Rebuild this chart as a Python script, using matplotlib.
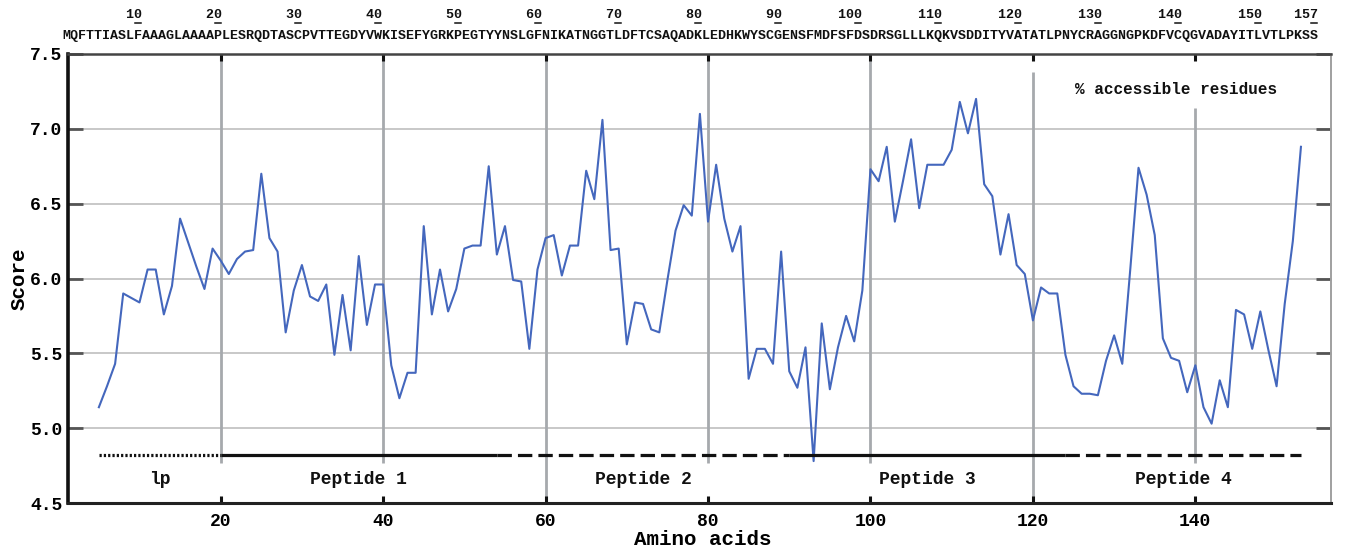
import numpy as np
import matplotlib
matplotlib.use("Agg")
import matplotlib.pyplot as plt
from matplotlib.lines import Line2D

plt.rcParams['font.family'] = ['Liberation Mono', 'DejaVu Sans Mono']
plt.rcParams['font.weight'] = 'bold'

# ---- protein sequence and residue numbering ----
sequence = ("MQFTTIASLFAAAGLAAAAPLESRQDTASCPVTTEGDYVWKISEFYGRKPEGTYYNSLGF"
            "NIKATNGGTLDFTCSAQADKLEDHKWYSCGENSFMDFSFDSDRSGLLLKQKVSDDITYVA"
            "TATLPNYCRAGGNGPKDFVCQGVADAYITLVTLPKSS")
seq_marks = [10, 20, 30, 40, 50, 60, 70, 80, 90, 100, 110, 120, 130, 140, 150, 157]

# ---- accessibility profile (window-centred residue, score) ----
residue = np.arange(5, 154)
score = [
    5.14, 5.28, 5.43, 5.90, 5.87, 5.84, 6.06, 6.06, 5.76, 5.95,   # 5-14
    6.40, 6.24, 6.08, 5.93, 6.20, 6.12, 6.03, 6.13, 6.18, 6.19,   # 15-24
    6.70, 6.27, 6.18, 5.64, 5.92, 6.09, 5.88, 5.85, 5.96, 5.49,   # 25-34
    5.89, 5.52, 6.15, 5.69, 5.96, 5.96, 5.42, 5.20, 5.37, 5.37,   # 35-44
    6.35, 5.76, 6.06, 5.78, 5.93, 6.20, 6.22, 6.22, 6.75, 6.16,   # 45-54
    6.35, 5.99, 5.98, 5.53, 6.06, 6.27, 6.29, 6.02, 6.22, 6.22,   # 55-64
    6.72, 6.53, 7.06, 6.19, 6.20, 5.56, 5.84, 5.83, 5.66, 5.64,   # 65-74
    5.99, 6.32, 6.49, 6.42, 7.10, 6.38, 6.76, 6.40, 6.18, 6.35,   # 75-84
    5.33, 5.53, 5.53, 5.43, 6.18, 5.38, 5.27, 5.54, 4.78, 5.70,   # 85-94
    5.26, 5.54, 5.75, 5.58, 5.92, 6.73, 6.65, 6.88, 6.38, 6.65,   # 95-104
    6.93, 6.47, 6.76, 6.76, 6.76, 6.86, 7.18, 6.97, 7.20, 6.63,   # 105-114
    6.55, 6.16, 6.43, 6.09, 6.03, 5.72, 5.94, 5.90, 5.90, 5.49,   # 115-124
    5.28, 5.23, 5.23, 5.22, 5.45, 5.62, 5.43, 6.07, 6.74, 6.56,   # 125-134
    6.29, 5.60, 5.47, 5.45, 5.24, 5.42, 5.14, 5.03, 5.32, 5.14,   # 135-144
    5.79, 5.76, 5.53, 5.78, 5.52, 5.28, 5.83, 6.25, 6.88,         # 145-153
]

# ---- peptide segments ----
seg_names = ['lp', 'Peptide 1', 'Peptide 2', 'Peptide 3', 'Peptide 4']
seg_start = [5, 20, 54, 90, 124]
seg_end = [20, 54, 90, 124, 153]
seg_styles = [(0, (0.7, 0.65)), '-', (0, (4.5, 1.9)), '-', (0, (4.5, 1.9))]

x_ticks = [20, 40, 60, 80, 100, 120, 140]
y_ticks = [4.5, 5.0, 5.5, 6.0, 6.5, 7.0, 7.5]

W, H = 1345, 551
fig = plt.figure(figsize=(W / 100, H / 100), dpi=100)
ax = fig.add_axes([68 / W, 48 / H, 1263 / W, 449 / H])
ax.set_xlim(1.2, 156.7)
ax.set_ylim(4.5, 7.5)

# horizontal grid
for yv in y_ticks[1:-1]:
    ax.axhline(yv, color='#c8c8c8', lw=1.4, zorder=1)

# vertical guide lines (partial heights)
v_lo = [4.77, 4.77, 4.5, 4.77, 4.77, 4.5, 4.77]
v_hi = [7.5, 7.5, 7.5, 7.5, 7.5, 7.38, 7.14]
ax.vlines(x_ticks, v_lo, v_hi, colors='#a6a9ad', lw=2.0, zorder=1)

# profile
ax.plot(residue, score, color='#4467bd', lw=1.5, zorder=3)

# segment bars and names
bar_y = 4.82
for name, s, e, ls in zip(seg_names, seg_start, seg_end, seg_styles):
    ax.plot([s, e], [bar_y, bar_y], color='#111111', lw=2.3, linestyle=ls,
            solid_capstyle='butt', dash_capstyle='butt', zorder=4)
    ax.text((s + e) / 2, 4.655, name, ha='center', va='center',
            fontsize=13, color='#111111')

ax.text(137.6, 7.266, '% accessible residues', ha='center', va='center',
        fontsize=11.5, color='#111111')

# ticks
ax.set_xticks(x_ticks)
ax.set_xticklabels([str(v) for v in x_ticks])
ax.set_yticks(y_ticks)
ax.set_yticklabels(['%.1f' % v for v in y_ticks])
ax.tick_params(axis='x', direction='in', bottom=True, top=True, length=5,
               width=2.2, color='#111111', labelsize=13, pad=7)
ax.tick_params(axis='y', direction='in', left=True, right=True, length=11,
               width=2.0, color='#555555', labelsize=13, pad=4)

# spines
ax.spines['left'].set_linewidth(2.6)
ax.spines['left'].set_color('#111111')
ax.spines['bottom'].set_linewidth(2.2)
ax.spines['bottom'].set_color('#222222')
ax.spines['top'].set_linewidth(1.8)
ax.spines['top'].set_color('#444444')
ax.spines['right'].set_linewidth(1.4)
ax.spines['right'].set_color('#a0a0a0')

# axis titles
fig.text(703 / W, 1 - 545 / H, 'Amino acids', ha='center', va='baseline',
         fontsize=15, fontweight='bold')
fig.text(25 / W, 1 - 279 / H, 'Score', ha='center', va='baseline',
         rotation=90, rotation_mode='anchor', fontsize=15, fontweight='bold')

# sequence line and numbering above the plot
seq_left = 62 / W
seq_txt = fig.text(seq_left, 1 - 36 / H, sequence, ha='left', va='center',
                   fontsize=9.66, color='#111111')
num_chars = [' '] * len(sequence)
for n in seq_marks:
    lab = str(n)
    for k, ch in enumerate(lab):
        num_chars[n - len(lab) + k] = ch
fig.text(seq_left, 1 - 15 / H, ''.join(num_chars), ha='left', va='center',
         fontsize=9.66, color='#111111')

fig.canvas.draw()
bb = seq_txt.get_window_extent()
adv = bb.width / len(sequence)
for n in seq_marks:
    xc = bb.x0 + (n - 0.5) * adv
    fig.add_artist(Line2D([(xc - 0.42 * adv) / W, (xc + 0.42 * adv) / W],
                          [1 - 23 / H, 1 - 23 / H], transform=fig.transFigure,
                          color='#111111', lw=1.1))

fig.savefig('out.png', dpi=100)
